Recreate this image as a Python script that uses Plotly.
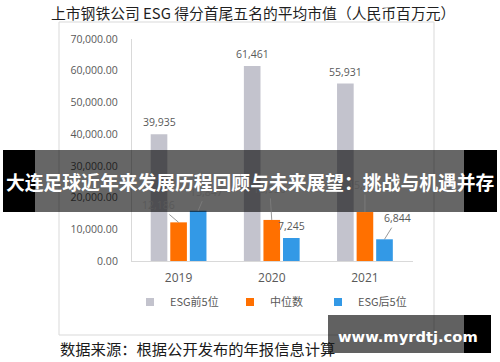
import plotly.graph_objects as go

# ---------------- data ----------------
years = ["2019", "2020", "2021"]
top5 = [39935, 61461, 55931]
median = [12186, 12950, 15440]
bottom5 = [15847, 7245, 6844]
series_names = ["ESG前5位", "中位数", "ESG后5位"]
y_ticks = [0, 10000, 20000, 30000, 40000, 50000, 60000, 70000]

title_text = "上市钢铁公司 ESG 得分首尾五名的平均市值（人民币百万元）"
banner_text = "大连足球近年来发展历程回顾与未来展望：挑战与机遇并存"
source_text = "数据来源：根据公开发布的年报信息计算"
watermark_text = "www.myrdtj.com"

# ---------------- style ----------------
colors = ["#c3c3cd", "#ff7000", "#3399e6"]
W, H = 500, 362
CJK = "Noto Sans CJK SC"
LAT = "Open Sans"
GREY_TXT = "#595959"
BARGAP = 0.37
slot = (1 - BARGAP) / 3
offsets = [-slot, 0.0, slot]
legend_ids = ["legend", "legend2", "legend3"]
legend_x = [130, 230, 318]

def px(x):
    return x / W

def py(y):
    return 1 - y / H

fig = go.Figure()
for name, vals, col, lid in zip(series_names, [top5, median, bottom5], colors, legend_ids):
    fig.add_trace(go.Bar(x=years, y=vals, name=name, marker_color=col,
                         marker_line_width=0, showlegend=False,
                         hoverinfo="x+y+name"))
    # legend proxy with small square markers
    fig.add_trace(go.Scatter(x=[None], y=[None], mode="markers", name=name,
                             marker=dict(symbol="square", size=8, color=col),
                             showlegend=True, legend=lid))

annotations = []
# label placement per series/category: (showarrow, ax, ay)
label_style = [
    [(False, 0, 0), (False, 0, 0), (False, 0, 0)],
    [(True, -20, -17), (True, -2, -31), (True, 0, -27)],
    [(True, 8, -19), (False, 0, 0), (True, 13, -21)],
]
for si, vals in enumerate([top5, median, bottom5]):
    for ci, v in enumerate(vals):
        show, ax, ay = label_style[si][ci]
        base = dict(x=ci + offsets[si], y=v, xref="x", yref="y",
                    text=f"{v:,}", xanchor="center",
                    font=dict(family=LAT, size=10.5, color=GREY_TXT))
        if show:
            base.update(showarrow=True, arrowhead=0, arrowwidth=0.8,
                        arrowcolor="#7f7f7f", ax=ax, ay=ay, standoff=0,
                        startstandoff=1, yanchor="middle")
        else:
            base.update(showarrow=False, yanchor="bottom", yshift=3)
        annotations.append(base)

def paper_text(x, y, text, font, xanchor="center"):
    return dict(x=px(x), y=py(y), xref="paper", yref="paper", text=text,
                showarrow=False, xanchor=xanchor, yanchor="middle", font=font)

# title
annotations.append(paper_text(253, 12, title_text,
                              dict(family=CJK, size=14.8, color="#1f1f1f")))
# source
annotations.append(paper_text(58, 348, source_text,
                              dict(family=CJK, size=15.3, color="#1a1a1a"),
                              xanchor="left"))
# banner text
annotations.append(paper_text(250, 181, "<b>" + banner_text + "</b>",
                              dict(family=CJK, size=18.8, color="white")))
# watermark text
annotations.append(paper_text(408, 336, "<b>" + watermark_text + "</b>",
                              dict(family="DejaVu Sans", size=14.7, color="white")))

shapes = [
    # chart frame
    dict(type="rect", xref="paper", yref="paper", x0=px(59), x1=px(434),
         y0=py(335), y1=py(22), line=dict(color="#d9d9d9", width=1),
         layer="below"),
    # banner
    dict(type="rect", xref="paper", yref="paper", x0=px(3), x1=px(35),
         y0=py(212), y1=py(150), fillcolor="black", line_width=0),
    dict(type="rect", xref="paper", yref="paper", x0=px(35), x1=px(464),
         y0=py(212), y1=py(150), fillcolor="rgba(0,0,0,0.6)", line_width=0),
    dict(type="rect", xref="paper", yref="paper", x0=px(464), x1=px(497),
         y0=py(212), y1=py(150), fillcolor="black", line_width=0),
    # watermark box
    dict(type="rect", xref="paper", yref="paper", x0=px(328), x1=px(464),
         y0=py(353), y1=py(315), fillcolor="rgba(0,0,0,0.62)", line_width=0),
    dict(type="rect", xref="paper", yref="paper", x0=px(464), x1=px(491),
         y0=py(353), y1=py(315), fillcolor="black", line_width=0),
]

legend_common = dict(orientation="h", xanchor="left", yanchor="middle",
                     y=py(302), font=dict(family=CJK, size=11, color=GREY_TXT),
                     bgcolor="rgba(0,0,0,0)", itemclick=False,
                     itemdoubleclick=False)

fig.update_layout(
    width=W, height=H,
    margin=dict(l=0, r=0, t=0, b=0, pad=0, autoexpand=False),
    paper_bgcolor="white", plot_bgcolor="white",
    barmode="group", bargap=BARGAP, bargroupgap=0.15,
    xaxis=dict(domain=[px(132), px(413)], type="category",
               showline=True, linecolor="#d9d9d9", linewidth=1,
               showgrid=False, ticks="", ticklabelstandoff=6,
               automargin=False,
               tickfont=dict(family=LAT, size=12, color=GREY_TXT)),
    yaxis=dict(domain=[py(261), py(39)], range=[0, 70000],
               tickvals=y_ticks, tickformat=",.2f",
               showline=True, linecolor="#d9d9d9", linewidth=1,
               showgrid=False, zeroline=False, ticks="",
               ticklabelstandoff=11, automargin=False,
               tickfont=dict(family=LAT, size=10.5, color=GREY_TXT)),
    legend=dict(x=px(legend_x[0]), **legend_common),
    legend2=dict(x=px(legend_x[1]), **legend_common),
    legend3=dict(x=px(legend_x[2]), **legend_common),
    annotations=annotations,
    shapes=shapes,
)

fig.write_html("out.html",
               config={"displayModeBar": False},
               post_script="document.body.style.margin='0px';"
                           "document.body.style.overflow='hidden';")
